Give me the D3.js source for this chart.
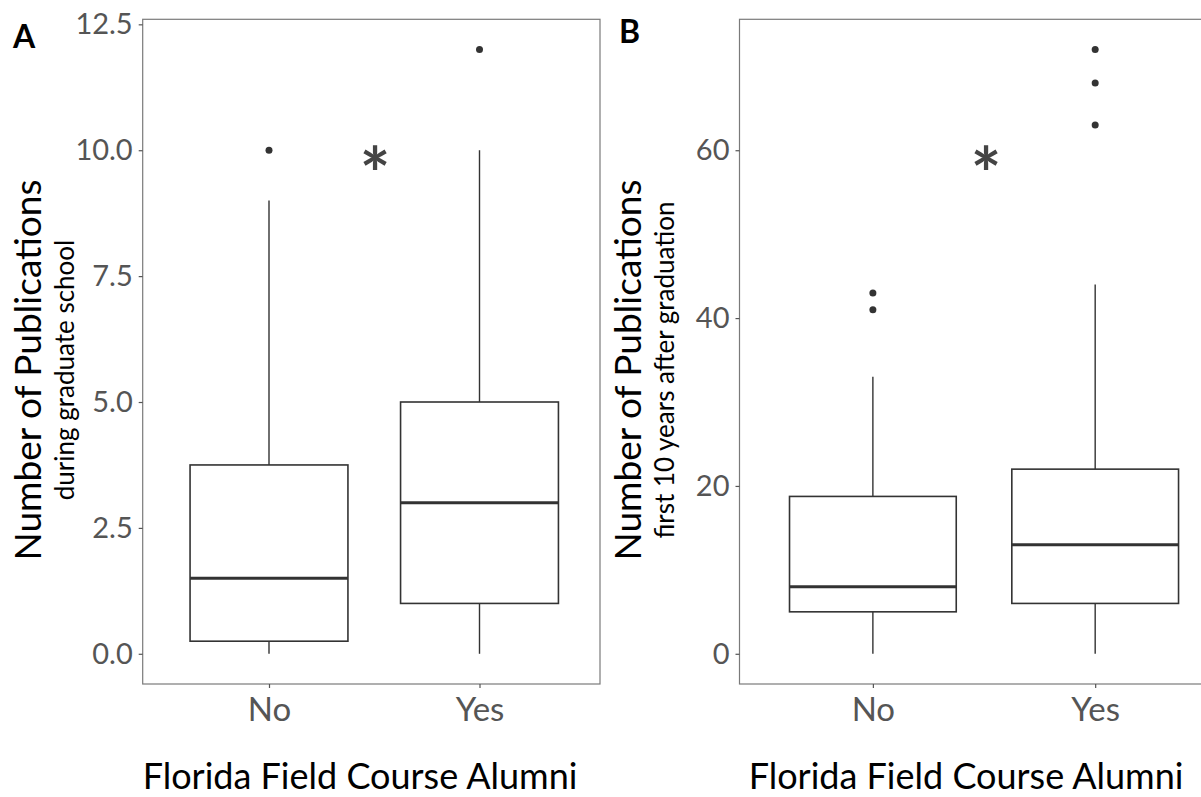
<!DOCTYPE html>
<html>
<head>
<meta charset="utf-8">
<script src="https://cdn.jsdelivr.net/npm/d3@7"></script>
<style>
  html, body { margin: 0; padding: 0; background: #fff; }
  svg { display: block; font-family: Lato, "Open Sans", sans-serif; }
</style>
</head>
<body>
<svg id="chart" width="1201" height="797"></svg>
<script>
// Alumni groups on the x axis
const groups = ["No", "Yes"];

// A: publications during graduate school (box-plot summaries per group)
const gradLow = [0, 0];
const gradQ1 = [0.25, 1];
const gradMedian = [1.5, 3];
const gradQ3 = [3.75, 5];
const gradHigh = [9, 10];
const gradOutliers = [[10], [12]];
const gradTicks = [0, 2.5, 5, 7.5, 10, 12.5];

// B: publications in the first 10 years after graduation
const postLow = [0, 0];
const postQ1 = [5, 6];
const postMedian = [8, 13];
const postQ3 = [18.75, 22];
const postHigh = [33, 44];
const postOutliers = [[41, 43], [63, 68, 72]];
const postTicks = [0, 20, 40, 60];

const svg = d3.select("#chart");

function drawPanel(cfg) {
  const g = svg.append("g");
  const top = 19.3, bottom = 684;

  // discrete x positions 1..n with ggplot-like 0.6 padding
  const x = d3.scaleLinear().domain([0.4, 2.6]).range([cfg.left, cfg.left + cfg.unit * 2.2]);
  const y = d3.scaleLinear().domain(cfg.yDomain).range([bottom, top]);
  const boxW = cfg.unit * 0.75;

  const rows = groups.map((k, i) => ({
    key: k, pos: i + 1,
    low: cfg.low[i], q1: cfg.q1[i], med: cfg.median[i], q3: cfg.q3[i], high: cfg.high[i],
    out: cfg.outliers[i]
  }));

  // panel frame
  g.append("rect")
    .attr("x", cfg.left).attr("y", top)
    .attr("width", cfg.right - cfg.left).attr("height", bottom - top)
    .attr("fill", "none").attr("stroke", "#7a7a7a").attr("stroke-width", 1.2);

  // y axis ticks and labels
  const yAxis = d3.axisLeft(y).tickValues(cfg.ticks).tickSize(4).tickPadding(6)
    .tickFormat(cfg.fmt);
  const ya = g.append("g").attr("transform", `translate(${cfg.left},0)`).call(yAxis);
  ya.select(".domain").remove();
  ya.selectAll(".tick line").attr("stroke", "#555").attr("stroke-width", 1.2);
  ya.selectAll(".tick text").attr("fill", "#555").attr("font-size", 29)
    .attr("font-family", "Lato, sans-serif");

  // x axis ticks and labels
  const xAxis = d3.axisBottom(x).tickValues([1, 2]).tickSize(4).tickPadding(10)
    .tickFormat(d => groups[d - 1]);
  const xa = g.append("g").attr("transform", `translate(0,${bottom})`).call(xAxis);
  xa.select(".domain").remove();
  xa.selectAll(".tick line").attr("stroke", "#555").attr("stroke-width", 1.2);
  xa.selectAll(".tick text").attr("fill", "#555").attr("font-size", 33)
    .attr("font-family", "Lato, sans-serif");

  const plot = g.append("g");

  // whiskers
  plot.selectAll(".whisk-hi").data(rows).join("line")
    .attr("x1", d => x(d.pos)).attr("x2", d => x(d.pos))
    .attr("y1", d => y(d.q3)).attr("y2", d => y(d.high))
    .attr("stroke", "#333").attr("stroke-width", 1.4);
  plot.selectAll(".whisk-lo").data(rows).join("line")
    .attr("x1", d => x(d.pos)).attr("x2", d => x(d.pos))
    .attr("y1", d => y(d.q1)).attr("y2", d => y(d.low))
    .attr("stroke", "#333").attr("stroke-width", 1.4);

  // boxes
  plot.selectAll(".box").data(rows).join("rect")
    .attr("x", d => x(d.pos) - boxW / 2).attr("width", boxW)
    .attr("y", d => y(d.q3)).attr("height", d => y(d.q1) - y(d.q3))
    .attr("fill", "#fff").attr("stroke", "#333").attr("stroke-width", 1.6);

  // medians
  plot.selectAll(".med").data(rows).join("line")
    .attr("x1", d => x(d.pos) - boxW / 2).attr("x2", d => x(d.pos) + boxW / 2)
    .attr("y1", d => y(d.med)).attr("y2", d => y(d.med))
    .attr("stroke", "#333").attr("stroke-width", 3);

  // outliers
  const pts = rows.flatMap(d => d.out.map(v => ({ pos: d.pos, v })));
  plot.selectAll(".out").data(pts).join("circle")
    .attr("cx", d => x(d.pos)).attr("cy", d => y(d.v)).attr("r", 3.5)
    .attr("fill", "#333");

  // significance marker
  g.append("text")
    .attr("x", cfg.starX).attr("y", 201)
    .attr("text-anchor", "middle")
    .attr("font-size", 72).attr("font-weight", "bold").attr("font-family", "Lato, sans-serif")
    .attr("fill", "#444").text("*");

  // y axis title with subtitle
  const cy = 370;
  g.append("text")
    .attr("transform", `translate(${cfg.titleX},${cy}) rotate(-90)`)
    .attr("text-anchor", "middle").attr("font-size", 37).attr("fill", "#000")
    .text("Number of Publications");
  g.append("text")
    .attr("transform", `translate(${cfg.subX},${cy}) rotate(-90)`)
    .attr("text-anchor", "middle").attr("font-size", 26).attr("fill", "#000")
    .text(cfg.subtitle);

  // x axis title
  g.append("text")
    .attr("x", cfg.xTitleX).attr("y", 789)
    .attr("text-anchor", "middle").attr("font-size", 36).attr("fill", "#000")
    .text("Florida Field Course Alumni");

  // panel tag
  g.append("text")
    .attr("x", cfg.tagX).attr("y", cfg.tagY)
    .attr("font-size", 32).attr("font-weight", "bold").attr("fill", "#000")
    .text(cfg.tag);
}

drawPanel({
  tag: "A", tagX: 13, tagY: 48,
  left: 142.7, right: 600, unit: 210.5,
  yDomain: [-0.6, 12.6], ticks: gradTicks, fmt: d3.format(".1f"),
  low: gradLow, q1: gradQ1, median: gradMedian, q3: gradQ3, high: gradHigh, outliers: gradOutliers,
  starX: 375, titleX: 41, subX: 74, xTitleX: 360,
  subtitle: "during graduate school"
});

drawPanel({
  tag: "B", tagX: 619, tagY: 43,
  left: 739.5, right: 1205, unit: 222.3,
  yDomain: [-3.6, 75.6], ticks: postTicks, fmt: d3.format("d"),
  low: postLow, q1: postQ1, median: postMedian, q3: postQ3, high: postHigh, outliers: postOutliers,
  starX: 986, titleX: 641, subX: 674, xTitleX: 966,
  subtitle: "first 10 years after graduation"
});
</script>
</body>
</html>
